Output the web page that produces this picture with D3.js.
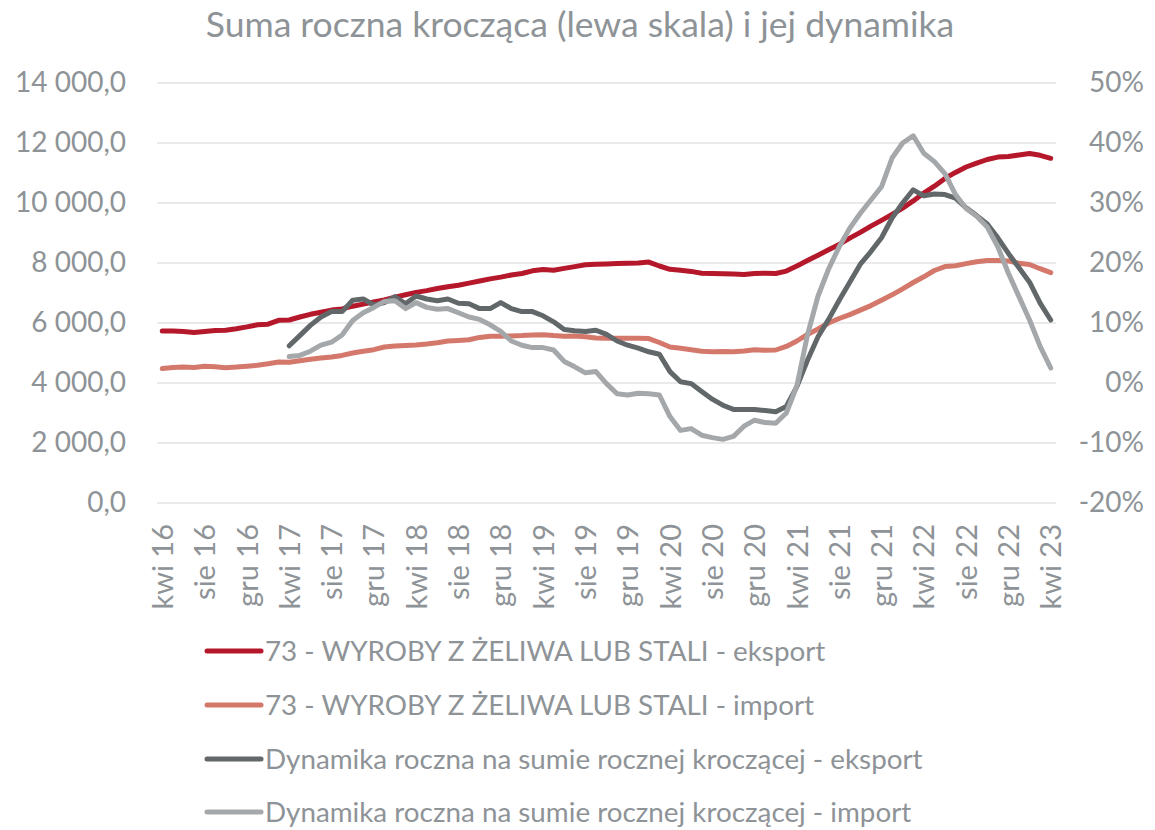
<!DOCTYPE html>
<html lang="pl">
<head>
<meta charset="utf-8">
<script src="https://cdn.jsdelivr.net/npm/d3@7"></script>
<style>
  html, body { margin: 0; padding: 0; background: #ffffff; }
  svg { display: block; }
  text { font-family: Lato, "Open Sans", sans-serif; fill: #8e9397; }
</style>
</head>
<body>
<svg id="chart" width="1155" height="830"></svg>
<script>
// Monthly categories, April 2016 – April 2023
const categories = [
  "kwi 16","maj 16","cze 16","lip 16","sie 16","wrz 16","paź 16","lis 16","gru 16","sty 17","lut 17","mar 17",
  "kwi 17","maj 17","cze 17","lip 17","sie 17","wrz 17","paź 17","lis 17","gru 17","sty 18","lut 18","mar 18",
  "kwi 18","maj 18","cze 18","lip 18","sie 18","wrz 18","paź 18","lis 18","gru 18","sty 19","lut 19","mar 19",
  "kwi 19","maj 19","cze 19","lip 19","sie 19","wrz 19","paź 19","lis 19","gru 19","sty 20","lut 20","mar 20",
  "kwi 20","maj 20","cze 20","lip 20","sie 20","wrz 20","paź 20","lis 20","gru 20","sty 21","lut 21","mar 21",
  "kwi 21","maj 21","cze 21","lip 21","sie 21","wrz 21","paź 21","lis 21","gru 21","sty 22","lut 22","mar 22",
  "kwi 22","maj 22","cze 22","lip 22","sie 22","wrz 22","paź 22","lis 22","gru 22","sty 23","lut 23","mar 23",
  "kwi 23"
];

// Rolling 12-month sum – export (left scale)
const eksport = [
  5730,5730,5720,5680,5720,5750,5760,5810,5870,5940,5960,6090,
  6100,6200,6290,6360,6430,6470,6560,6630,6700,6770,6860,6940,
  7020,7080,7150,7210,7260,7330,7400,7470,7530,7600,7650,7740,
  7780,7760,7820,7880,7940,7960,7970,7980,7990,8000,8030,7900,
  7790,7760,7720,7660,7650,7640,7630,7620,7650,7660,7650,7730,
  7900,8080,8260,8440,8620,8830,9020,9230,9420,9620,9830,10070,
  10330,10560,10820,11020,11200,11330,11450,11530,11550,11600,11650,11590,
  11490
];

// Rolling 12-month sum – import (left scale)
const importSum = [
  4480,4520,4530,4520,4560,4540,4510,4530,4560,4590,4640,4700,
  4690,4740,4790,4830,4870,4920,5000,5060,5110,5200,5230,5250,
  5270,5300,5340,5400,5420,5440,5520,5560,5560,5570,5580,5600,
  5610,5580,5560,5570,5540,5500,5490,5490,5490,5490,5480,5350,
  5200,5160,5110,5060,5040,5050,5040,5070,5110,5090,5100,5220,
  5400,5620,5800,6000,6150,6280,6430,6580,6760,6940,7140,7350,
  7540,7750,7880,7910,7980,8040,8080,8080,8070,7990,7950,7810,
  7680
];

// Year-on-year change of the rolling sum, % (right scale); no values for the first year
const dynEksport = [
  null,null,null,null,null,null,null,null,null,null,null,null,
  6.2,7.9,9.6,11.0,11.9,11.9,13.8,14.0,13.0,13.4,14.4,13.2,
  14.5,14.0,13.7,14.0,13.3,13.2,12.4,12.4,13.4,12.4,11.9,11.9,
  11.2,10.2,8.9,8.7,8.6,8.8,8.1,7.0,6.3,5.8,5.2,4.8,
  1.9,0.2,-0.1,-1.4,-2.7,-3.7,-4.4,-4.4,-4.4,-4.6,-4.8,-3.9,
  -0.6,3.8,7.7,10.6,13.8,16.8,19.8,21.9,24.2,27.5,30.0,32.2,
  31.2,31.5,31.4,30.8,29.2,27.9,26.5,24.2,21.6,19.2,16.8,13.3,
  10.5
];

const dynImport = [
  null,null,null,null,null,null,null,null,null,null,null,null,
  4.4,4.6,5.3,6.3,6.8,8.0,10.4,11.7,12.6,13.6,13.7,12.4,
  13.4,12.6,12.3,12.4,11.7,11.0,10.6,9.7,8.6,7.0,6.3,5.9,
  5.9,5.5,3.6,2.7,1.7,1.9,-0.1,-1.8,-2.0,-1.7,-1.8,-2.0,
  -5.6,-7.9,-7.6,-8.7,-9.1,-9.4,-8.9,-7.2,-6.2,-6.6,-6.7,-5.0,
  -0.5,8.0,14.5,19.0,22.7,25.8,28.3,30.5,32.7,37.5,40.0,41.2,
  38.3,36.9,34.9,31.4,29.1,27.8,26.0,22.7,18.3,14.4,10.5,6.1,
  2.5
];

// Axis ticks
const leftTicks = [0, 2000, 4000, 6000, 8000, 10000, 12000, 14000];
const rightTicks = [-20, -10, 0, 10, 20, 30, 40, 50];
const xTickLabels = ["kwi 16","sie 16","gru 16","kwi 17","sie 17","gru 17","kwi 18","sie 18","gru 18",
  "kwi 19","sie 19","gru 19","kwi 20","sie 20","gru 20","kwi 21","sie 21","gru 21","kwi 22","sie 22","gru 22","kwi 23"];

const seriesNames = [
  "73 - WYROBY Z ŻELIWA LUB STALI - eksport",
  "73 - WYROBY Z ŻELIWA LUB STALI - import",
  "Dynamika roczna na sumie rocznej kroczącej - eksport",
  "Dynamika roczna na sumie rocznej kroczącej - import"
];
const seriesColors = ["#b5182b", "#d5786c", "#62676a", "#a5a8ab"];

const svg = d3.select("#chart");
const plot = { left: 157, right: 1056, top: 83, bottom: 503 };

const x = d3.scalePoint().domain(categories).range([plot.left, plot.right]).padding(0.5);
const yL = d3.scaleLinear().domain([0, 14000]).range([plot.bottom, plot.top]);
const yR = d3.scaleLinear().domain([-20, 50]).range([plot.bottom, plot.top]);

const pl = d3.formatLocale({ decimal: ",", thousands: "\u00a0", grouping: [3], currency: ["", " zł"], minus: "-" });
const fmtLeft = pl.format(",.1f");

// Title
svg.append("text")
  .attr("x", 580).attr("y", 37)
  .attr("text-anchor", "middle")
  .style("font-size", "35.5px")
  .text("Suma roczna krocząca (lewa skala) i jej dynamika");

// Gridlines
svg.append("g").selectAll("line").data(leftTicks).join("line")
  .attr("x1", plot.left).attr("x2", plot.right)
  .attr("y1", d => yL(d)).attr("y2", d => yL(d))
  .attr("stroke", "#e3e3e3").attr("stroke-width", 1.5);

// Left axis
const axL = svg.append("g").attr("transform", `translate(${plot.left},0)`)
  .call(d3.axisLeft(yL).tickValues(leftTicks).tickFormat(fmtLeft).tickSize(0).tickPadding(31));
axL.select(".domain").remove();
axL.selectAll("text").style("font-size", "28px").style("font-family", "Lato, sans-serif").attr("fill", "#8e9397");

// Right axis
const axR = svg.append("g").attr("transform", `translate(${plot.right},0)`)
  .call(d3.axisRight(yR).tickValues(rightTicks).tickFormat(d => pl.format("d")(d) + "%").tickSize(0).tickPadding(88));
axR.select(".domain").remove();
axR.selectAll("text").style("font-size", "28px").style("font-family", "Lato, sans-serif")
  .attr("fill", "#8e9397").attr("text-anchor", "end");

// Bottom axis with rotated month labels
const axB = svg.append("g").attr("transform", `translate(0,${plot.bottom})`)
  .call(d3.axisBottom(x).tickValues(xTickLabels).tickSize(0));
axB.select(".domain").remove();
axB.selectAll("text")
  .attr("transform", "rotate(-90)")
  .attr("x", -21).attr("y", 0).attr("dy", "0.35em")
  .attr("text-anchor", "end")
  .style("font-size", "29px").style("font-family", "Lato, sans-serif").attr("fill", "#8e9397");

// Series lines
const lineL = d3.line().x((d, i) => x(categories[i])).y(d => yL(d));
const lineR = d3.line().defined(d => d !== null).x((d, i) => x(categories[i])).y(d => yR(d));

const lines = [
  { data: eksport, gen: lineL, color: seriesColors[0] },
  { data: importSum, gen: lineL, color: seriesColors[1] },
  { data: dynEksport, gen: lineR, color: seriesColors[2] },
  { data: dynImport, gen: lineR, color: seriesColors[3] }
];
// Drawing order: rolling sums first, then dynamics on top
svg.append("g").selectAll("path").data(lines).join("path")
  .attr("d", d => d.gen(d.data))
  .attr("fill", "none")
  .attr("stroke", d => d.color)
  .attr("stroke-width", 5)
  .attr("stroke-linejoin", "round")
  .attr("stroke-linecap", "round");

// Legend
const legendY = [651, 705, 759, 812];
const lg = svg.append("g").selectAll("g").data(seriesNames).join("g")
  .attr("transform", (d, i) => `translate(0,${legendY[i]})`);
lg.append("line")
  .attr("x1", 207).attr("x2", 261).attr("y1", 0).attr("y2", 0)
  .attr("stroke", (d, i) => seriesColors[i]).attr("stroke-width", 5).attr("stroke-linecap", "round");
lg.append("text")
  .attr("x", 265).attr("y", 0).attr("dy", "0.35em")
  .style("font-size", "27.8px")
  .text(d => d);
</script>
</body>
</html>
